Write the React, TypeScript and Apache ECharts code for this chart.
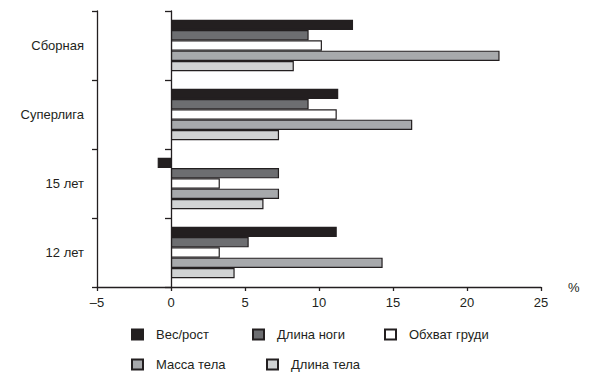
import React, { useEffect, useRef } from "react";
import * as echarts from "echarts";

const categories = ["Сборная", "Суперлига", "15 лет", "12 лет"];
const seriesNames = ["Вес/рост", "Длина ноги", "Обхват груди", "Масса тела", "Длина тела"];
const vesRost = [12.3, 11.3, -0.9, 11.2];
const dlinaNogi = [9.3, 9.3, 7.3, 5.25];
const obkhvatGrudi = [10.2, 11.2, 3.3, 3.3];
const massaTela = [22.2, 16.3, 7.3, 14.3];
const dlinaTela = [8.3, 7.3, 6.25, 4.3];
const seriesValues = [vesRost, dlinaNogi, obkhvatGrudi, massaTela, dlinaTela];
const colors = ["#231f20", "#6d6e71", "#ffffff", "#a7a9ac", "#d1d3d4"];
const xTicks = { min: -5, max: 25, interval: 5 };

const FONT = "Liberation Sans";
const INK = "#231f20";

export default function App() {
  const ref = useRef<HTMLDivElement>(null);
  useEffect(() => {
    if (!ref.current) return;
    const chart = echarts.init(ref.current, undefined, { renderer: "svg" });
    const legendPos = [
      { left: 131, top: 328 },
      { left: 252, top: 328 },
      { left: 384, top: 328 },
      { left: 131, top: 358 },
      { left: 266, top: 358 },
    ];
    chart.setOption({
      animation: false,
      backgroundColor: "#ffffff",
      grid: { left: 97, right: 58, top: 11, bottom: 93, containLabel: false },
      legend: seriesNames.map((n, i) => ({
        data: [n],
        left: legendPos[i].left,
        top: legendPos[i].top,
        padding: 0,
        itemWidth: 11,
        itemHeight: 10,
        icon: "rect",
        selectedMode: false,
        textStyle: { color: INK, fontFamily: FONT, fontSize: 13, padding: [0, 0, 0, 8] },
      })),
      xAxis: {
        type: "value",
        min: xTicks.min,
        max: xTicks.max,
        interval: xTicks.interval,
        name: "%",
        nameLocation: "end",
        nameGap: 27,
        nameTextStyle: { color: INK, fontFamily: FONT, fontSize: 13, padding: [0, 0, 4, 0] },
        axisLine: { show: true, onZero: false, lineStyle: { color: INK, width: 1.3 } },
        axisTick: { show: true, length: 4, lineStyle: { color: INK, width: 1.3 } },
        splitLine: { show: false },
        axisLabel: {
          color: INK,
          fontFamily: FONT,
          fontSize: 13,
          margin: 9,
          formatter: (v: number) => (v < 0 ? "–" + Math.abs(v) : String(v)),
        },
      },
      yAxis: [
        {
          type: "category",
          data: categories,
          inverse: true,
          position: "left",
          axisLine: { show: true, onZero: false, lineStyle: { color: INK, width: 1.3 } },
          axisTick: { show: true, length: 5, lineStyle: { color: INK, width: 1.3 } },
          axisLabel: { color: INK, fontFamily: FONT, fontSize: 13, margin: 13 },
          splitLine: { show: false },
        },
        {
          type: "category",
          data: categories,
          inverse: true,
          position: "left",
          axisLine: { show: true, onZero: true, lineStyle: { color: INK, width: 1.3 } },
          axisTick: { show: true, length: 6, lineStyle: { color: INK, width: 1.3 } },
          axisLabel: { show: false },
          splitLine: { show: false },
        },
      ],
      series: seriesNames.map((n, i) => ({
        name: n,
        type: "bar",
        yAxisIndex: 0,
        data: seriesValues[i],
        barWidth: 10.3,
        barGap: "0%",
        itemStyle: { color: colors[i], borderColor: INK, borderWidth: 1.2 },
      })),
    });
    return () => chart.dispose();
  }, []);
  return (
    <div
      ref={ref}
      style={{ position: "fixed", left: 0, top: 0, width: 599, height: 380 }}
    />
  );
}
